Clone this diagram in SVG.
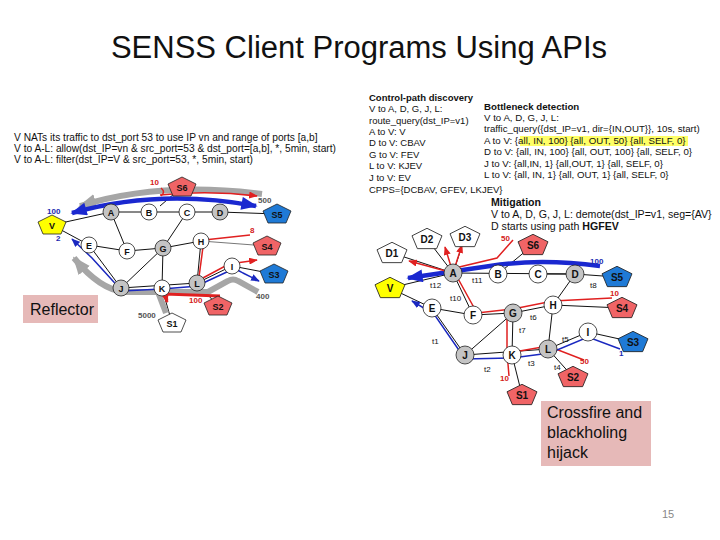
<svg xmlns="http://www.w3.org/2000/svg" xmlns:xlink="http://www.w3.org/1999/xlink" width="720" height="540" viewBox="0 0 720 540">
<style>
text{font-family:"Liberation Sans",Arial,sans-serif;fill:#111}
.title{font-size:31px;text-anchor:middle}
.tl{font-size:10.2px}
.t{font-size:9.5px}
.tb{font-size:9.7px}
.tm{font-size:10.6px}
.b{font-weight:bold}
.e{stroke:#111;stroke-width:1;fill:none}
.eg{stroke:#777;stroke-width:1;fill:none}
.n{stroke:#222;stroke-width:0.8}
.gray{fill:#c4c4c4}
.white{fill:#fff}
.yel{fill:#ffff00}
.red{fill:#f06466}
.blue{fill:#1f7ad6}
.nl{font-size:9px;font-weight:bold;text-anchor:middle}
.nr{font-size:10px;font-weight:bold;text-anchor:middle}
.lab{font-size:8px}
.lr{fill:#d42020;font-weight:bold}
.lbl{fill:#1a28b0;font-weight:bold}
.lg{fill:#555;font-weight:bold}
.ar{stroke:#e02020;stroke-width:1.5;fill:none}
.arT{stroke:#e02020;stroke-width:3;fill:none}
.ab{stroke:#1a28c0;stroke-width:1.5;fill:none}
.abT{stroke:#1a28d0;stroke-width:4.5;fill:none}
.ag{stroke:#a6a6a6;stroke-width:6;fill:none}
.box{fill:#e6b9b8}
.big{font-size:16px}
</style>
<defs>
<path id="pent" d="M0,-10 L14,-3 L9,9 L-9,9 L-14,-3 Z"/>
<marker id="mR" viewBox="0 0 10 8" refX="9" refY="4" markerWidth="9" markerHeight="7" markerUnits="userSpaceOnUse" orient="auto"><path d="M0,0 L10,4 L0,8 Z" fill="#e02020"/></marker>
<marker id="mRT" viewBox="0 0 10 8" refX="9" refY="4" markerWidth="12" markerHeight="12" markerUnits="userSpaceOnUse" orient="auto"><path d="M0,0 L10,4 L0,8 Z" fill="#e02020"/></marker>
<marker id="mB" viewBox="0 0 10 8" refX="9" refY="4" markerWidth="9" markerHeight="7" markerUnits="userSpaceOnUse" orient="auto"><path d="M0,0 L10,4 L0,8 Z" fill="#1a28c0"/></marker>
<marker id="mBT" viewBox="0 0 10 8" refX="9" refY="4" markerWidth="17" markerHeight="13" markerUnits="userSpaceOnUse" orient="auto-start-reverse"><path d="M0,0 L10,4 L0,8 Z" fill="#1a28d0"/></marker>
<marker id="mG" viewBox="0 0 10 8" refX="9" refY="4" markerWidth="18" markerHeight="15" markerUnits="userSpaceOnUse" orient="auto"><path d="M0,0 L10,4 L0,8 Z" fill="#a6a6a6"/></marker>
</defs>

<text class="title" x="359" y="58">SENSS Client Programs Using APIs</text>

<g id="left-text" class="tl">
<text x="14" y="141">V NATs its traffic to dst_port 53 to use IP vn and range of ports [a,b]</text>
<text x="14" y="152">V to A-L:  allow(dst_IP=vn &amp; src_port=53 &amp; dst_port=[a,b], *, 5min, start)</text>
<text x="14" y="163">V to A-L: filter(dst_IP=V &amp; src_port=53, *, 5min, start)</text>
</g>

<!-- LEFT NETWORK -->
<g id="left-edges">
<path class="e" d="M52,225 L111,212 M52,225 L89,245 M111,212 L220,212 M220,212 L277,214 M182,187 L160,206 M111,212 L127,251 M89,245 L127,251 L163,248 L201,241 M187,212 L163,248 M197,283 L201,241 M163,248 L121,288 M163,248 L162,288 M89,245 L121,288 L197,283 L232,266 L274,274 M162,288 L172,323 M197,283 L218,306"/>
<path class="eg" d="M201,241 L267,246"/>
</g>
<g id="left-arrows">
<path class="ag" d="M262,194 Q160,181 80,206" marker-end="url(#mG)"/>
<path class="abT" d="M72,213 Q160,188 256,206" marker-start="url(#mBT)" marker-end="url(#mBT)"/>
<path class="ar" d="M160,195 Q210,190 257,196" marker-end="url(#mR)"/>
<path class="ar" d="M161,188 Q166,192 161,196"/>
<path class="ar" d="M204,240 L250,235"/>
<path class="ar" d="M199,277 L203,247"/>
<path class="ar" d="M201,279 L229,264 L257,260" marker-end="url(#mR)"/>
<path class="ab" d="M201,284 L229,271 Q236,268 243,273 L259,281" marker-end="url(#mB)"/>
<path class="ag" d="M258,292 L238,281 Q233,278 228,281 L208,292 L125,292 Q100,290 74,258" marker-end="url(#mG)"/>
<path class="ab" d="M199,286 L162,289 L122,291 L92,258 L72,239" marker-end="url(#mB)"/>
<path class="ag" d="M158,292 L166,313"/>
<path class="arT" d="M220,296 L165,294 L167,300" />
<path class="arT" d="M165,294 L167,302" marker-end="url(#mRT)"/>
</g>
<g id="left-nodes">
<g id="L-V"><use href="#pent" x="52" y="225" class="n yel"/><text class="nl" x="52" y="229">V</text></g>
<g id="L-A"><circle cx="111" cy="212" r="8" class="n gray"/><text class="nl" x="111" y="215.5">A</text></g>
<g id="L-B"><circle cx="149" cy="212" r="8" class="n white"/><text class="nl" x="149" y="215.5">B</text></g>
<g id="L-C"><circle cx="187" cy="212" r="8" class="n white"/><text class="nl" x="187" y="215.5">C</text></g>
<g id="L-D"><circle cx="220" cy="212" r="8" class="n gray"/><text class="nl" x="220" y="215.5">D</text></g>
<g id="L-S5"><use href="#pent" x="277" y="214" class="n blue"/><text class="nl" x="277" y="218">S5</text></g>
<g id="L-S6"><use href="#pent" x="182" y="187" class="n red"/><text class="nl" x="182" y="191">S6</text></g>
<g id="L-E"><circle cx="89" cy="245" r="8" class="n white"/><text class="nl" x="89" y="248.5">E</text></g>
<g id="L-F"><circle cx="127" cy="251" r="8" class="n white"/><text class="nl" x="127" y="254.5">F</text></g>
<g id="L-G"><circle cx="163" cy="248" r="8" class="n gray"/><text class="nl" x="163" y="251.5">G</text></g>
<g id="L-H"><circle cx="201" cy="241" r="8" class="n white"/><text class="nl" x="201" y="244.5">H</text></g>
<g id="L-S4"><use href="#pent" x="267" y="246" class="n red"/><text class="nl" x="267" y="250">S4</text></g>
<g id="L-I"><circle cx="232" cy="266" r="8" class="n white"/><text class="nl" x="232" y="269.5">I</text></g>
<g id="L-S3"><use href="#pent" x="274" y="274" class="n blue"/><text class="nl" x="274" y="278">S3</text></g>
<g id="L-J"><circle cx="121" cy="288" r="8" class="n gray"/><text class="nl" x="121" y="291.5">J</text></g>
<g id="L-K"><circle cx="162" cy="288" r="8" class="n white"/><text class="nl" x="162" y="291.5">K</text></g>
<g id="L-L"><circle cx="197" cy="283" r="8" class="n gray"/><text class="nl" x="197" y="286.5">L</text></g>
<g id="L-S2"><use href="#pent" x="218" y="306" class="n red"/><text class="nl" x="218" y="310">S2</text></g>
<g id="L-S1"><use href="#pent" x="172" y="323" class="n white"/><text class="nl" x="172" y="327">S1</text></g>
</g>
<g id="left-labels" class="lab">
<text class="lr" x="150" y="185">10</text>
<text class="lg" x="258" y="203">500</text>
<text class="lbl" x="47" y="214">100</text>
<text class="lbl" x="56" y="241">2</text>
<text class="lr" x="250" y="233">8</text>
<text class="lg" x="256" y="299">400</text>
<text class="lr" x="189" y="303">100</text>
<text class="lg" x="138" y="318">5000</text>
</g>
<g id="reflector"><rect class="box" x="23" y="295" width="75" height="28"/><text class="big" x="30" y="315">Reflector</text></g>

<!-- RIGHT TEXT -->
<g id="cpd" class="t">
<text class="b" x="369" y="101">Control-path discovery</text>
<text x="369" y="112">V to A, D, G, J, L:</text>
<text x="369" y="124">route_query(dst_IP=v1)</text>
<text x="369" y="135">A to V: V</text>
<text x="369" y="146">D to V: CBAV</text>
<text x="369" y="158">G to V: FEV</text>
<text x="369" y="169">L to V: KJEV</text>
<text x="369" y="181">J to V: EV</text>
<text x="369" y="193">CPPS={DCBAV, GFEV, LKJEV}</text>
</g>
<g id="bnd" class="tb">
<rect x="520" y="136" width="168" height="10" fill="#ffff66"/>
<text class="b" x="484" y="110">Bottleneck detection</text>
<text x="484" y="121">V to A, D, G, J, L:</text>
<text x="484" y="132">traffic_query({dst_IP=v1, dir={IN,OUT}}, 10s, start)</text>
<text x="484" y="144">A to V: {all, IN, 100} {all, OUT, 50} {all, SELF, 0}</text>
<text x="484" y="155">D to V: {all, IN, 100} {all, OUT, 100} {all, SELF, 0}</text>
<text x="484" y="167">J to V: {all,IN, 1} {all,OUT, 1} {all, SELF, 0}</text>
<text x="484" y="178">L to V: {all, IN, 1} {all, OUT, 1} {all, SELF, 0}</text>
</g>
<g id="mit" class="tm">
<text class="b" x="491" y="206">Mitigation</text>
<text x="491" y="218">V to A, D, G, J, L: demote(dst_IP=v1, seg={AV}</text>
<text x="491" y="230">D starts using path <tspan class="b">HGFEV</tspan></text>
</g>

<!-- RIGHT NETWORK -->
<g id="right-edges">
<path class="e" d="M390,288 L453,273 M390,288 L432,308 M453,273 L392,253 M453,273 L427,239 M453,273 L465,237 M453,273 L575,274 M575,274 L617,277 M498,274 L533,245 M453,273 L473,315 M432,308 L473,315 L513,313 L553,305 L622,308 M575,274 L553,305 M553,305 L548,349 M513,313 L465,355 M513,313 L512,355 M432,308 L465,355 L548,349 L588,332 L633,342 M512,355 L522,395 M548,349 L573,377"/>
<path class="e" stroke-width="2" d="M538,274 L575,274"/>
</g>
<g id="right-arrows">
<path class="abT" d="M600,266 Q540,258 490,266 L408,278" marker-end="url(#mBT)"/>
<path class="ar" d="M453,273 L409,261" marker-end="url(#mR)"/>
<path class="ar" d="M453,273 L445,247" marker-end="url(#mR)"/>
<path class="ar" d="M453,273 L462,245" marker-end="url(#mR)"/>
<path class="ar" d="M513,240 L497,258 L455,268"/>
<path class="ar" d="M456,275 L477,313 L513,309 L553,301 L612,298"/>
<path class="ar" d="M507,317 L507,352 L509,376"/>
<path class="ar" d="M514,352 L548,346 L584,360"/>
<path class="ab" d="M620,349 L588,337 L550,353 L512,358 L465,359 L434,314 L412,301" marker-end="url(#mB)"/>
</g>
<g id="right-nodes">
<g id="R-D1"><use href="#pent" x="392" y="253" class="n white" transform="translate(392,253) scale(1.07) translate(-392,-253)"/><text class="nr" x="392" y="257">D1</text></g>
<g id="R-D2"><use href="#pent" x="427" y="239" class="n white" transform="translate(427,239) scale(1.07) translate(-427,-239)"/><text class="nr" x="427" y="243">D2</text></g>
<g id="R-D3"><use href="#pent" x="465" y="237" class="n white" transform="translate(465,237) scale(1.07) translate(-465,-237)"/><text class="nr" x="465" y="241">D3</text></g>
<g id="R-S6"><use href="#pent" x="533" y="245" class="n red" transform="translate(533,245) scale(1.07) translate(-533,-245)"/><text class="nr" x="533" y="249">S6</text></g>
<g id="R-V"><use href="#pent" x="390" y="288" class="n yel" transform="translate(390,288) scale(1.07) translate(-390,-288)"/><text class="nr" x="390" y="292">V</text></g>
<g id="R-A"><circle cx="453" cy="273" r="9" class="n gray"/><text class="nr" x="453" y="276.5">A</text></g>
<g id="R-B"><circle cx="498" cy="274" r="9" class="n white"/><text class="nr" x="498" y="277.5">B</text></g>
<g id="R-C"><circle cx="538" cy="274" r="9" class="n white"/><text class="nr" x="538" y="277.5">C</text></g>
<g id="R-D"><circle cx="575" cy="274" r="9" class="n gray"/><text class="nr" x="575" y="277.5">D</text></g>
<g id="R-S5"><use href="#pent" x="617" y="277" class="n blue" transform="translate(617,277) scale(1.07) translate(-617,-277)"/><text class="nr" x="617" y="281">S5</text></g>
<g id="R-E"><circle cx="432" cy="308" r="9" class="n white"/><text class="nr" x="432" y="311.5">E</text></g>
<g id="R-F"><circle cx="473" cy="315" r="9" class="n white"/><text class="nr" x="473" y="318.5">F</text></g>
<g id="R-G"><circle cx="513" cy="313" r="9" class="n gray"/><text class="nr" x="513" y="316.5">G</text></g>
<g id="R-H"><circle cx="553" cy="305" r="9" class="n white"/><text class="nr" x="553" y="308.5">H</text></g>
<g id="R-S4"><use href="#pent" x="622" y="308" class="n red" transform="translate(622,308) scale(1.07) translate(-622,-308)"/><text class="nr" x="622" y="312">S4</text></g>
<g id="R-I"><circle cx="588" cy="332" r="9" class="n white"/><text class="nr" x="588" y="335.5">I</text></g>
<g id="R-S3"><use href="#pent" x="633" y="342" class="n blue" transform="translate(633,342) scale(1.07) translate(-633,-342)"/><text class="nr" x="633" y="346">S3</text></g>
<g id="R-J"><circle cx="465" cy="355" r="9" class="n gray"/><text class="nr" x="465" y="358.5">J</text></g>
<g id="R-K"><circle cx="512" cy="355" r="9" class="n white"/><text class="nr" x="512" y="358.5">K</text></g>
<g id="R-L"><circle cx="548" cy="349" r="9" class="n gray"/><text class="nr" x="548" y="352.5">L</text></g>
<g id="R-S2"><use href="#pent" x="573" y="377" class="n red" transform="translate(573,377) scale(1.07) translate(-573,-377)"/><text class="nr" x="573" y="381">S2</text></g>
<g id="R-S1"><use href="#pent" x="522" y="395" class="n red" transform="translate(522,395) scale(1.07) translate(-522,-395)"/><text class="nr" x="522" y="399">S1</text></g>
</g>
<g id="right-labels" class="lab">
<text x="430" y="288">t12</text>
<text x="472" y="283">t11</text>
<text x="450" y="301">t10</text>
<text x="590" y="288">t8</text>
<text x="530" y="320">t6</text>
<text x="519" y="333">t7</text>
<text x="432" y="344">t1</text>
<text x="484" y="372">t2</text>
<text x="528" y="366">t3</text>
<text x="554" y="370">t4</text>
<text x="562" y="342">t5</text>
<text class="lr" x="501" y="241">50</text>
<text class="lbl" x="590" y="264">100</text>
<text class="lr" x="610" y="296">10</text>
<text class="lr" x="580" y="364">50</text>
<text class="lbl" x="619" y="356">1</text>
<text class="lr" x="500" y="381">10</text>
</g>
<g id="crossfire"><rect class="box" x="541" y="401" width="110" height="65"/>
<text class="big" x="547" y="418">Crossfire and</text>
<text class="big" x="547" y="438">blackholing</text>
<text class="big" x="547" y="458">hijack</text></g>
<text x="662" y="518" font-size="11" style="fill:#888">15</text>
</svg>
